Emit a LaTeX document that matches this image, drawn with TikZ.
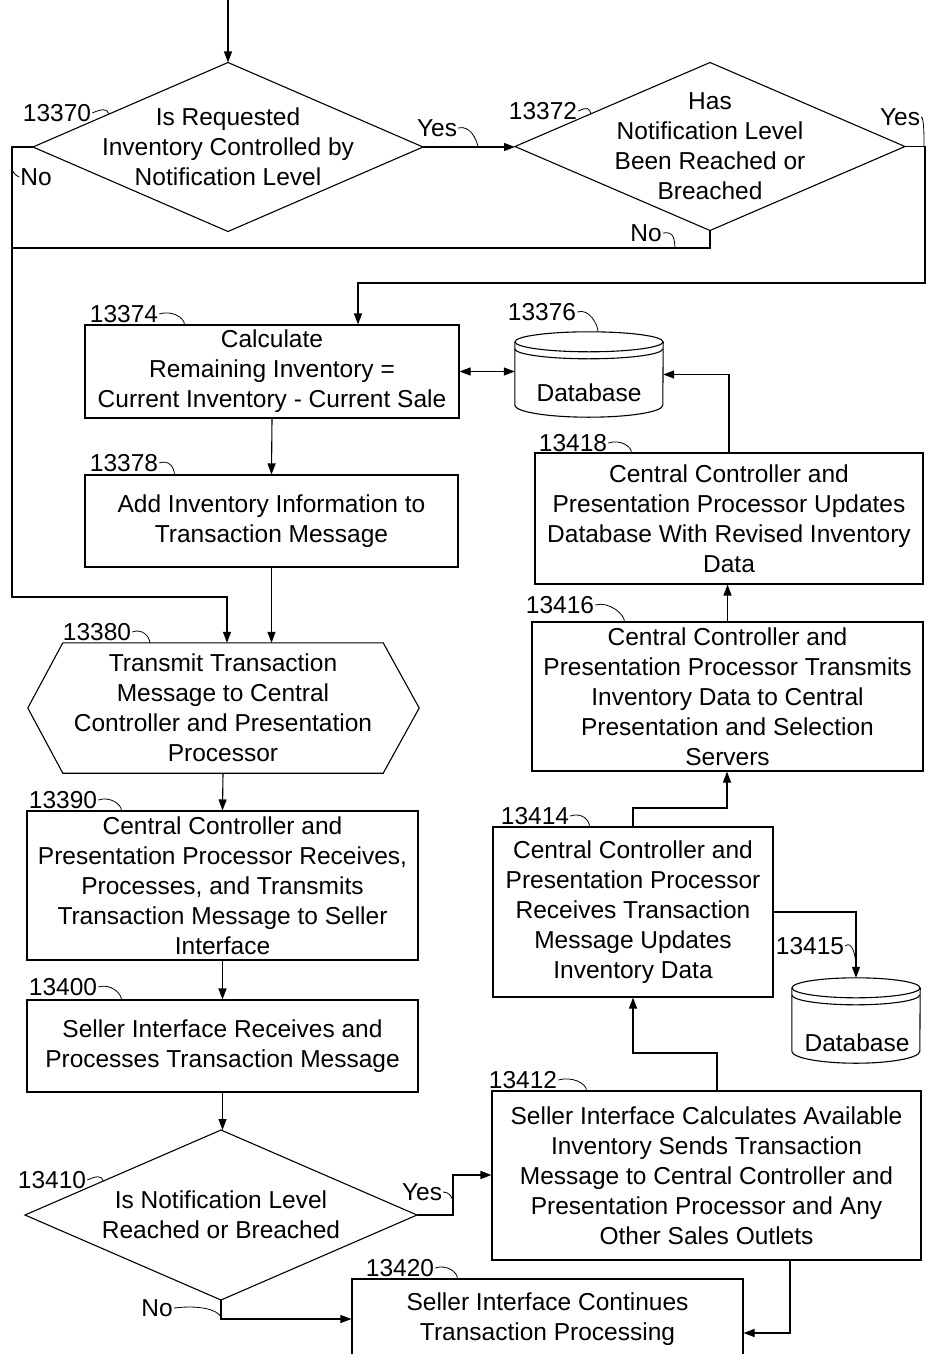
\documentclass[tikz,border=0pt]{standalone}
\usepackage{fontspec}
\setmainfont{Liberation Sans}
\usetikzlibrary{shapes.geometric,arrows.meta,calc}

% cylinder outline round an empty node: #1 node, #2 half width
\newcommand{\dbdraw}[2]{%
  \draw[line] ([yshift=-10pt]#1.north west) -- ([yshift=12pt]#1.south west)
    arc[start angle=180,end angle=360,x radius=#2,y radius=12pt]
    -- ([yshift=-10pt]#1.north east);
  \draw[line] ([yshift=-10pt]#1.north) ellipse[x radius=#2,y radius=10pt];
  \draw[line] ([yshift=-17pt]#1.north west) arc[start angle=180,end angle=360,x radius=#2,y radius=10pt];
}

\begin{document}
\begin{tikzpicture}[x=1pt,y=-1pt,
    every node/.style={font=\fontsize{24.5}{30}\selectfont},
    line/.style={line width=1.1pt},
    box/.style={draw,line width=1.1pt,inner sep=0pt,align=center},
    decision/.style={draw,diamond,line width=1.1pt,inner sep=0pt,outer sep=0pt},
    num/.style={inner sep=1pt},
    tick/.style={line width=0.8pt},
    arrow/.style={line width=1.1pt,-{Triangle[length=11pt,width=8pt]}},
    biarrow/.style={line width=1.1pt,{Triangle[length=11pt,width=8pt]}-{Triangle[length=11pt,width=8pt]}}]
  \useasboundingbox (0,0) rectangle (927,1354);

  % left column
  \node[decision,minimum width=390,minimum height=169] (q1) at (228,147) {};
  \node[align=center] (q1t) at (q1) {Is Requested\\Inventory Controlled by\\Notification Level};
  \node[decision,minimum width=390,minimum height=168] (q2) at (710,146.5) {};
  \node[align=center] (q2t) at (q2) {Has\\Notification Level\\Been Reached or\\Breached};
  \node[box,minimum width=374,minimum height=93] (b1) at (272,371.5) {Calculate\\Remaining Inventory =\\Current Inventory - Current Sale};
  \node[box,minimum width=373,minimum height=92] (b2) at (271.5,521) {Add Inventory Information to\\Transaction Message};
  \node[minimum width=320,minimum height=130,inner sep=0pt,align=center] (hex) at (223,708) {Transmit Transaction\\Message to Central\\Controller and Presentation\\Processor};
  \draw[line] (hex.north west) -- (hex.north east) -- ([xshift=36pt]hex.east) -- (hex.south east)
    -- (hex.south west) -- ([xshift=-35pt]hex.west) -- cycle;
  \node[box,minimum width=391,minimum height=149] (b3) at (222.5,885.5) {Central Controller and\\Presentation Processor Receives,\\Processes, and Transmits\\Transaction Message to Seller\\Interface};
  \node[box,minimum width=391,minimum height=92] (b4) at (222.5,1046) {Seller Interface Receives and\\Processes Transaction Message};
  \node[decision,minimum width=392,minimum height=170] (q3) at (221,1215) {};
  \node[align=center] (q3t) at (q3) {Is Notification Level\\Reached or Breached};
  \node[box,minimum width=391,minimum height=80] (b20) at (547.5,1319) {Seller Interface Continues\\Transaction Processing};

  % right column
  \node[minimum width=148,minimum height=85,inner sep=0pt] (db1) at (589,374.5) {};
  \dbdraw{db1}{74pt}
  \node (db1t) at (589,393) {Database};
  \node[box,minimum width=388,minimum height=131] (b18) at (729,518.5) {Central Controller and\\Presentation Processor Updates\\Database With Revised Inventory\\Data};
  \node[box,minimum width=391,minimum height=149] (b16) at (727.5,696.5) {Central Controller and\\Presentation Processor Transmits\\Inventory Data to Central\\Presentation and Selection\\Servers};
  \node[box,minimum width=280,minimum height=170] (b14) at (633,912) {Central Controller and\\Presentation Processor\\Receives Transaction\\Message Updates\\Inventory Data};
  \node[minimum width=128,minimum height=85,inner sep=0pt] (db2) at (856,1020.5) {};
  \dbdraw{db2}{64pt}
  \node (db2t) at (857,1043) {Database};
  \node[box,minimum width=429,minimum height=169] (b12) at (706.5,1175.5) {Seller Interface Calculates Available\\Inventory Sends Transaction\\Message to Central Controller and\\Presentation Processor and Any\\Other Sales Outlets};

  % bends
  \coordinate (start) at (228,0);
  \coordinate (loopL) at (12,597);
  \coordinate (noJoin) at (12,248);
  \coordinate (yesR) at (925,283);
  \coordinate (yesDrop) at (358,283);
  \coordinate (yesUp) at (453,1175);
  \coordinate (dropR) at (790,1333);
  \coordinate (upL) at (717,1053);
  \coordinate (upR) at (727,808);

  % connectors
  \draw[arrow] (start) -- (q1.north);
  \draw[arrow] (q1.east) -- (q1.east -| q2.west);
  \draw[arrow] (q1.west) -| (loopL) -| ([xshift=4pt]hex.north);
  \draw[line] (q2.south) |- (noJoin);
  \draw[arrow] (q2.east) -| (yesR) -- (yesDrop) -- (yesDrop |- b1.north);
  \draw[biarrow] (b1.east) -- (b1.east -| db1.west);
  \draw[arrow] (b18.north) |- (db1.east);
  \draw[arrow] (b1.south) -- (b2.north);
  \draw[arrow] (b2.south) -- (b2.south |- hex.north);
  \draw[arrow] (hex.south) -- (b3.north);
  \draw[arrow] (b3.south) -- (b4.north);
  \draw[arrow] (b4.south) -- (b4.south |- q3.north);
  \draw[arrow] (q3.east) -| (yesUp) -- (yesUp -| b12.west);
  \draw[arrow] (q3.south) |- (b20.west);
  \draw[arrow] (dropR |- b12.south) -- (dropR) -- (dropR -| b20.east);
  \draw[arrow] (upL |- b12.north) -- (upL) -| (b14.south);
  \draw[arrow] (b14.north) |- (upR) -- (upR |- b16.south);
  \draw[arrow] (b16.north) -- (b16.north |- b18.south);
  \draw[arrow] (b14.east) -| (db2.north);

  % reference numbers
  \node[num] (l13370) at (57,113) {13370};
  \draw[tick] (l13370.east) .. controls +(9,-4) and +(-2,-6) .. ($(q1.west)!0.39!(q1.north)$);
  \node[num] (l13372) at (543,111) {13372};
  \draw[tick] (l13372.east) .. controls +(9,-4) and +(-2,-6) .. ($(q2.west)!0.39!(q2.north)$);
  \node[num] (l13374) at (124,314) {13374};
  \draw[tick] (l13374.east) .. controls +(12,-4) and +(0,-7) .. ([xshift=100pt]b1.north west);
  \node[num] (l13376) at (542,312) {13376};
  \draw[tick] (l13376.east) .. controls +(12,-4) and +(0,-7) .. ([xshift=9pt]db1.north);
  \node[num] (l13378) at (124,463) {13378};
  \draw[tick] (l13378.east) .. controls +(10,-4) and +(0,-6) .. ([xshift=90pt]b2.north west);
  \node[num] (l13380) at (97,632) {13380};
  \draw[tick] (l13380.east) .. controls +(10,-4) and +(0,-6) .. ([xshift=87pt]hex.north west);
  \node[num] (l13390) at (63,800) {13390};
  \draw[tick] (l13390.east) .. controls +(12,-4) and +(0,-6) .. ([xshift=95pt]b3.north west);
  \node[num] (l13400) at (63,987) {13400};
  \draw[tick] (l13400.east) .. controls +(12,-4) and +(0,-6) .. ([xshift=95pt]b4.north west);
  \node[num] (l13410) at (52,1180) {13410};
  \draw[tick] (l13410.east) .. controls +(9,-4) and +(-2,-6) .. ($(q3.west)!0.4!(q3.north)$);
  \node[num] (l13412) at (523,1080) {13412};
  \draw[tick] (l13412.east) .. controls +(14,-4) and +(0,-7) .. ([xshift=95pt]b12.north west);
  \node[num] (l13414) at (535,816) {13414};
  \draw[tick] (l13414.east) .. controls +(12,-4) and +(0,-6) .. ([xshift=97pt]b14.north west);
  \node[num] (l13415) at (810,946) {13415};
  \draw[tick] (l13415.east) .. controls +(7,-6) and +(0,-12) .. ($(b14.east -| db2.north)!0.85!(db2.north)$);
  \node[num] (l13416) at (560,605) {13416};
  \draw[tick] (l13416.east) .. controls +(14,-4) and +(0,-7) .. ([xshift=93pt]b16.north west);
  \node[num] (l13418) at (573,443) {13418};
  \draw[tick] (l13418.east) .. controls +(12,-4) and +(0,-6) .. ([xshift=97pt]b18.north west);
  \node[num] (l13420) at (400,1268) {13420};
  \draw[tick] (l13420.east) .. controls +(12,-4) and +(0,-6) .. ([xshift=106pt]b20.north west);

  % branch labels
  \node[num] (yes1) at (437,128) {Yes};
  \draw[tick] (yes1.east) .. controls +(12,-3) and +(-2,-8) .. ($(q1.east)!0.6!(q1.east -| q2.west)$);
  \node[num] (no1) at (36,177) {No};
  \draw[tick] (no1.west) .. controls +(-4,-2) and +(2,4) .. ($(q1.west -| loopL)!0.05!(loopL)$);
  \node[num] (yes2) at (900,117) {Yes};
  \draw[tick] (yes2.east) .. controls +(3,0) and +(0,-8) .. ($(q2.east)!0.95!(q2.east -| yesR)$);
  \node[num] (no2) at (646,233) {No};
  \draw[tick] (no2.east) .. controls +(12,-2) and +(-1,-8) .. ($(q2.south |- noJoin)!0.05!(noJoin)$);
  \node[num] (yes3) at (422,1192) {Yes};
  \draw[tick] (yes3.east) .. controls +(6,0) and +(0,-6) .. ($(q3.east -| yesUp)!0.3!(yesUp)$);
  \node[num] (no3) at (157,1308) {No};
  \draw[tick] (no3.east) .. controls +(25,-3) and +(-4,-8) .. ($(q3.south)!0.9!(q3.south |- b20.west)$);
\end{tikzpicture}
\end{document}
